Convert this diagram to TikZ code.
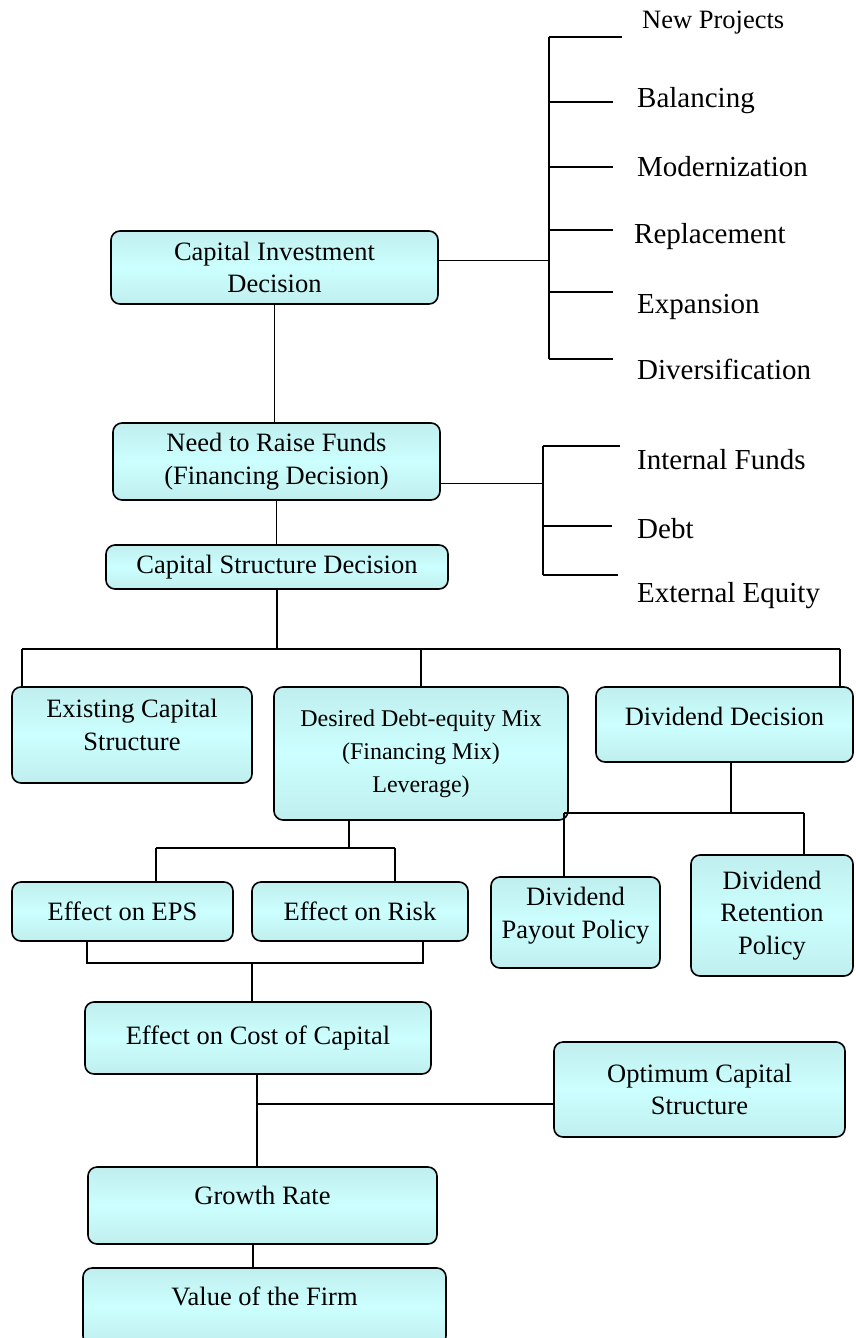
\documentclass[tikz,border=0pt]{standalone}
\usepackage{fontspec}
\setmainfont{Liberation Serif}
\definecolor{boxcyan}{RGB}{204,255,255}
\definecolor{boxedge}{RGB}{192,238,238}

\begin{document}
\begin{tikzpicture}[x=1pt,y=-1pt,
  box/.style={draw,line width=1.6pt,rounded corners=9pt,top color=boxedge,bottom color=boxedge,
    middle color=boxcyan,align=center,inner sep=0pt,font=\fontsize{26.5}{32.5}\selectfont},
  item/.style={anchor=base west,inner sep=0pt,font=\fontsize{29}{34}\selectfont},
  wire/.style={line width=1.8pt}]
  \useasboundingbox (0,0) rectangle (855,1338);

  \node[box,minimum width=327pt,minimum height=73pt] (cid) at (274.5,267.5) {Capital Investment\\Decision};
  \node[box,minimum width=327pt,minimum height=77pt] (need) at (276.5,461.5) {Need to Raise Funds\\(Financing Decision)};
  \node[box,minimum width=342pt,minimum height=44pt] (csd) at (277,567) {Capital Structure Decision};
  \node[box,minimum width=240pt,minimum height=96pt,text depth=20pt] (ecs) at (132,735) {Existing Capital\\Structure};
  \node[box,minimum width=294pt,minimum height=133pt,font=\fontsize{24}{33}\selectfont] (mix) at (421,753.5) {Desired Debt-equity Mix\\(Financing Mix)\\Leverage)};
  \node[box,minimum width=257pt,minimum height=75pt,text depth=15.5pt] (divd) at (724.5,724.5) {Dividend Decision};
  \node[box,minimum width=221pt,minimum height=59pt] (eps) at (122.5,911.5) {Effect on EPS};
  \node[box,minimum width=216pt,minimum height=59pt] (risk) at (360,911.5) {Effect on Risk};
  \node[box,minimum width=169pt,minimum height=91pt,text depth=19pt] (payout) at (575.5,922.5) {Dividend\\Payout Policy};
  \node[box,minimum width=162pt,minimum height=121pt] (retain) at (772,915.5) {Dividend\\Retention\\Policy};
  \node[box,minimum width=346pt,minimum height=72pt] (cost) at (258,1038) {Effect on Cost of Capital};
  \node[box,minimum width=291pt,minimum height=95pt] (opt) at (699.5,1089.5) {Optimum Capital\\Structure};
  \node[box,minimum width=349pt,minimum height=77pt,text depth=20pt] (growth) at (262.5,1205.5) {Growth Rate};
  \node[box,minimum width=363pt,minimum height=77pt,text depth=20pt] (firm) at (264.5,1306.5) {Value of the Firm};

  \node[item,font=\fontsize{26.5}{32}\selectfont] (np) at (642,29) {New Projects};
  \foreach \nm/\xx/\yy/\txt in {bal/637/107/Balancing,mod/637/176/Modernization,rep/634/243/Replacement,
      exp/637/313/Expansion,div/637/379/Diversification,int/637/469/Internal Funds,debt/637/538/Debt,
      ext/637/602/External Equity}
    \node[item] (\nm) at (\xx,\yy) {\txt};

  \coordinate (ibus) at (549,37);
  \coordinate (ibusend) at (549,359);
  \coordinate (cidout) at ([yshift=7pt]cid.east);
  \draw[wire] (cidout) -- (cidout -| ibus);
  \draw[wire] (ibus) -- (ibusend);
  \foreach \yy/\xe in {37/622,102/613,167/613,230/613,292/613,359/613}
    \draw[wire] (549,\yy) -- (\xe,\yy);

  \coordinate (fbus) at (543,446);
  \coordinate (fbusend) at (543,575);
  \coordinate (needout) at ([yshift=-22pt]need.east);
  \draw[wire] (cid.south) -- (cid.south |- need.north);
  \draw[wire] (needout) -- (needout -| fbus);
  \draw[wire] (fbus) -- (fbusend);
  \foreach \yy/\xe in {446/620,526/612,575/618}
    \draw[wire] (543,\yy) -- (\xe,\yy);

  \coordinate (split) at (277,649);
  \coordinate (sl) at (22,649);
  \coordinate (sr) at (840,649);
  \draw[wire] (need.south) -- (need.south |- csd.north);
  \draw[wire] (csd.south) -- (split);
  \draw[wire] (sl) -- (sr);
  \draw[wire] (sl) -- (sl |- ecs.north);
  \draw[wire] (mix.north) -- (mix.north |- sl);
  \draw[wire] (sr) -- (sr |- divd.north);

  \coordinate (dm) at (731,813);
  \coordinate (dl) at (564,813);
  \coordinate (dr) at (804,813);
  \draw[wire] (dm |- divd.south) -- (dm);
  \draw[wire] (dl) -- (dr);
  \draw[wire] (dl) -- (dl |- payout.north);
  \draw[wire] (dr) -- (dr |- retain.north);

  \coordinate (mm) at (349,848);
  \coordinate (ml) at (156,848);
  \coordinate (mr) at (395,848);
  \draw[wire] (mm |- mix.south) -- (mm);
  \draw[wire] (ml) -- (mr);
  \draw[wire] (ml) -- (ml |- eps.north);
  \draw[wire] (mr) -- (mr |- risk.north);

  \coordinate (em) at (252,963);
  \coordinate (el) at (87,963);
  \coordinate (er) at (423,963);
  \draw[wire] (el |- eps.south) -- (el) -- (er) -- (er |- risk.south);
  \draw[wire] (em) -- (em |- cost.north);

  \coordinate (cm) at (257,1104);
  \coordinate (gm) at (253,1244);
  \draw[wire] (cm |- cost.south) -- (cm |- growth.north);
  \draw[wire] (cm) -- (cm -| opt.west);
  \draw[wire] (gm |- growth.south) -- (gm |- firm.north);
\end{tikzpicture}
\end{document}
